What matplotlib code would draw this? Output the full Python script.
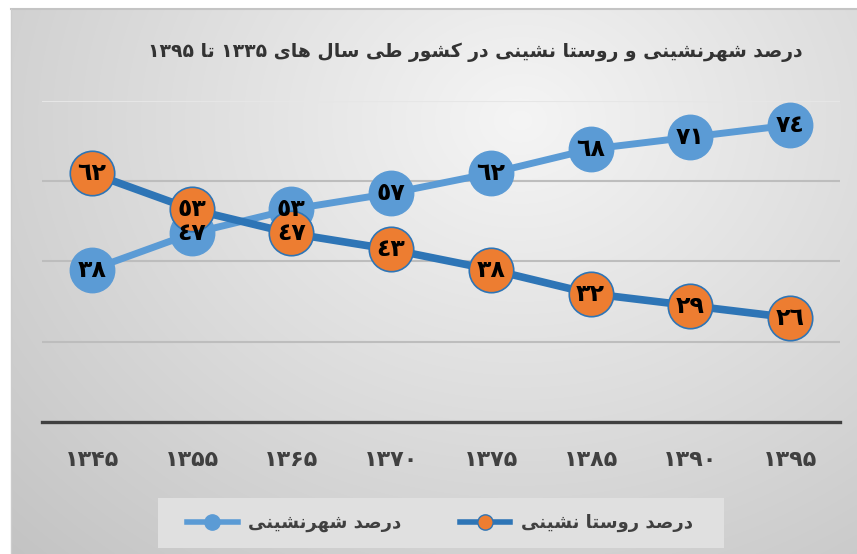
import numpy as np
import matplotlib
matplotlib.use('Agg')
import matplotlib.pyplot as plt
from matplotlib.lines import Line2D
from matplotlib.patches import Rectangle

# data
years = ['۱۳۴۵', '۱۳۵۵', '۱۳۶۵', '۱۳۷۰', '۱۳۷۵', '۱۳۸۵', '۱۳۹۰', '۱۳۹۵']
urban = [38, 47, 53, 57, 62, 68, 71, 74]
rural = [62, 53, 47, 43, 38, 32, 29, 26]
title = 'درصد شهرنشینی و روستا نشینی در کشور طی سال های ۱۳۳۵ تا ۱۳۹۵'
urban_name = 'درصد شهرنشینی'
rural_name = 'درصد روستا نشینی'

c_urban = '#5b9bd5'
c_rural_line = '#2e75b6'
c_rural_mark = '#ed7d31'

# matplotlib has no arabic shaping -> pick presentation forms by hand
# (isolated, final, initial, medial)
FORMS = {
    'ا': ('\uFE8D', '\uFE8E', None, None),
    'ت': ('\uFE95', '\uFE96', '\uFE97', '\uFE98'),
    'د': ('\uFEA9', '\uFEAA', None, None),
    'ر': ('\uFEAD', '\uFEAE', None, None),
    'س': ('\uFEB1', '\uFEB2', '\uFEB3', '\uFEB4'),
    'ش': ('\uFEB5', '\uFEB6', '\uFEB7', '\uFEB8'),
    'ص': ('\uFEB9', '\uFEBA', '\uFEBB', '\uFEBC'),
    'ط': ('\uFEC1', '\uFEC2', '\uFEC3', '\uFEC4'),
    'ل': ('\uFEDD', '\uFEDE', '\uFEDF', '\uFEE0'),
    'ن': ('\uFEE5', '\uFEE6', '\uFEE7', '\uFEE8'),
    'ه': ('\uFEE9', '\uFEEA', '\uFEEB', '\uFEEC'),
    'و': ('\uFEED', '\uFEEE', None, None),
    'ی': ('\uFBFC', '\uFBFD', '\uFBFE', '\uFBFF'),
    'ک': ('\uFB8E', '\uFB8F', '\uFB90', '\uFB91'),
}


def shape(s):
    out = []
    for i, ch in enumerate(s):
        f = FORMS.get(ch)
        if f is None:
            out.append(ch)
            continue
        prev = s[i - 1] if i > 0 else ''
        nxt = s[i + 1] if i + 1 < len(s) else ''
        jp = prev in FORMS and FORMS[prev][2] is not None
        jn = f[2] is not None and nxt in FORMS
        if jp and jn:
            out.append(f[3])
        elif jp:
            out.append(f[1])
        elif jn:
            out.append(f[2])
        else:
            out.append(f[0])
    runs = []
    for ch in out:
        d = ch.isdigit()
        if runs and runs[-1][0] == d:
            runs[-1][1].append(ch)
        else:
            runs.append([d, [ch]])
    vis = ''
    for d, chars in reversed(runs):
        vis += ''.join(chars if d else chars[::-1])
    return vis


def ar_num(v):
    return ''.join(chr(0x660 + int(c)) for c in str(v))


plt.rcParams['font.family'] = ['DejaVu Sans']
plt.rcParams['font.weight'] = 'bold'

W, H = 857, 554
fig = plt.figure(figsize=(W / 100, H / 100), dpi=100)

# background gradient
bx0, by0 = 11, 9
bg = fig.add_axes([bx0 / W, 0, 1 - bx0 / W, 1 - by0 / H])
yy, xx = np.mgrid[by0:H, bx0:W]
r = np.sqrt(((xx - 520) / 600.0) ** 2 + ((yy - 120) / 500.0) ** 2)
g = np.clip(0.96 - 0.16 * r, 0.76, 1)
bg.imshow(np.dstack([g, g, g]), aspect='auto', interpolation='bilinear')
bg.axis('off')
fig.add_artist(Line2D([bx0 / W, 1], [1 - by0 / H] * 2, color='#c4c4c4', lw=1.5))
fig.add_artist(Line2D([bx0 / W] * 2, [0, 1 - by0 / H], color='#cccccc', lw=1))

# legend box
fig.add_artist(Rectangle((158 / W, 6 / H), 566 / W, 50 / H, facecolor='#e0e0e0',
                         edgecolor='none', transform=fig.transFigure))

ax = fig.add_axes([42 / W, 132 / H, 798 / W, 321 / H])
ax.patch.set_alpha(0)
x = np.arange(len(years))

for v, c in zip([20, 40, 60, 80], ['#bdbdbd', '#bdbdbd', '#bdbdbd', '#e6e6e6']):
    ax.axhline(v, color=c, lw=1.5, zorder=1)
ax.axhline(0, color='#404040', lw=2.4, zorder=2, clip_on=False)

ax.plot(x, urban, color=c_urban, lw=5, marker='o', ms=32, mfc=c_urban,
        mec=c_urban, zorder=3)
ax.plot(x, rural, color=c_rural_line, lw=5.5, marker='o', ms=32,
        mfc=c_rural_mark, mec=c_rural_line, mew=1.2, zorder=4)

for xi, v in zip(x, urban):
    ax.text(xi, v, ar_num(v), ha='center', va='center', fontsize=17,
            color='black', zorder=6)
for xi, v in zip(x, rural):
    ax.text(xi, v, ar_num(v), ha='center', va='center', fontsize=17,
            color='black', zorder=6)

ax.set_xlim(-0.5, len(years) - 0.5)
ax.set_ylim(0, 80)
ax.set_yticks([])
ax.set_xticks(x)
ax.set_xticklabels(years, fontsize=16, color='#404040')
ax.tick_params(axis='x', length=0, pad=20)
for s in ax.spines.values():
    s.set_visible(False)

fig.text(475 / W, 1 - 52 / H, shape(title), ha='center', va='center',
         fontsize=13.5, color='#333333')

handles = [
    Line2D([], [], color=c_urban, lw=4, marker='o', ms=11, mfc=c_urban, mec=c_urban),
    Line2D([], [], color=c_rural_line, lw=4, marker='o', ms=11, mfc=c_rural_mark,
           mec=c_rural_line),
]
fig.legend(handles, [shape(urban_name), shape(rural_name)], ncol=2, frameon=False,
           loc='center', bbox_to_anchor=(440 / W, 1 - 523 / H), fontsize=13,
           handlelength=2.8, handletextpad=0.6, columnspacing=3.2,
           labelcolor='#404040')

fig.savefig('out.png', dpi=100)
